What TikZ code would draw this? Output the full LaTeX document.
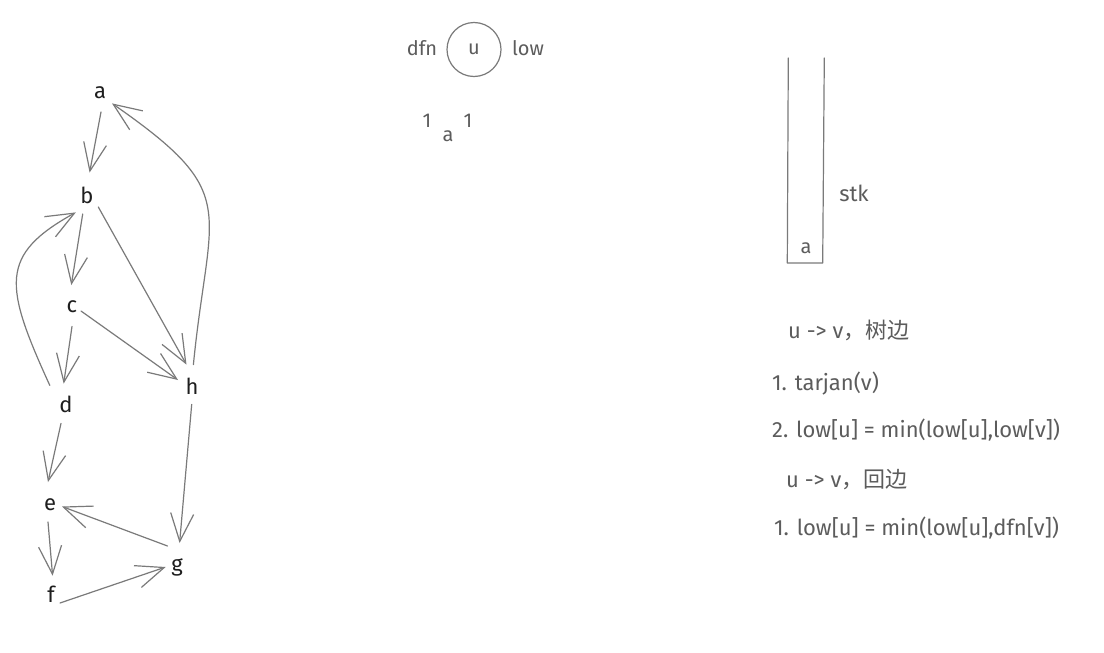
\documentclass[tikz,border=0pt]{standalone}
\usepackage{fontspec}
\setmainfont{Fira Sans}
\newfontfamily\cjk{Noto Sans CJK SC}
\usetikzlibrary{arrows.meta,calc}
\definecolor{inkblack}{HTML}{1E1E1E}
\definecolor{inkgray}{HTML}{5C5C5C}
\definecolor{linegray}{HTML}{7A7A7A}
\begin{document}
\begin{tikzpicture}[x=1pt,y=-1pt,
  lbl/.style={inner sep=0pt, text=inkblack, font=\fontsize{22}{26}\selectfont},
  note/.style={inner sep=0pt, text=inkgray, font=\fontsize{22}{26}\selectfont, anchor=base west},
  small/.style={inner sep=0pt, text=inkgray, font=\fontsize{20}{24}\selectfont, anchor=base},
  edge/.style={draw=linegray, line width=1.2pt, line cap=round, -{Straight Barb[length=28pt,width=23pt]}},
  plain/.style={draw=linegray, line width=1.2pt, line cap=round, line join=round}]
\useasboundingbox (0,0) rectangle (1104,653);
\fill[white] (0,0) rectangle (1104,653);

% graph nodes
\node[lbl] (a) at (100,93) {a};
\node[lbl] (b) at (87,195) {b};
\node[lbl] (c) at (72,307) {c};
\node[lbl] (d) at (66,404) {d};
\node[lbl] (h) at (192,386) {h};
\node[lbl] (e) at (50,505) {e};
\node[lbl] (g) at (177,567) {g};
\node[lbl] (f) at (51,594) {f};

% graph edges
\draw[edge] ($(a)+(1,19)$) -- ($(b)+(2.6,-22.4)$);
\draw[edge] ($(b)+(-4.3,19)$) -- ($(c)+(-0.7,-22)$);
\draw[edge] ($(b)+(11.3,12)$) -- ($(h)+(-5.5,-21.4)$);
\draw[edge] ($(c)+(9,4)$) -- ($(h)+(-14,-6)$);
\draw[edge] ($(c)+(0,19.5)$) -- ($(d)+(-2.3,-20.4)$);
\draw[edge] ($(d)+(-16.2,-18.6)$) .. controls ($(d)+(-62,-119)$) and ($(b)+(-88,60)$) .. ($(b)+(-11.2,17.4)$);
\draw[edge] ($(d)+(-5,19.4)$) -- ($(e)+(-2,-23)$);
\draw[edge] ($(h)+(-0.3,18.4)$) -- ($(g)+(2.6,-24)$);
\draw[edge] ($(g)+(-9.5,-21)$) -- ($(e)+(12,1.5)$);
\draw[edge] ($(f)+(9,9)$) -- ($(g)+(-11.3,0)$);
\draw[edge] ($(e)+(-2,17)$) -- ($(f)+(1.6,-18.3)$);
\draw[edge] ($(h)+(1.4,-21.4)$) .. controls ($(h)+(17,-180.6)$) and ($(a)+(143,101.6)$) .. ($(a)+(12,10.4)$);

% legend circle
\node[small] (dfn) at (422,56) {dfn};
\node[circle, draw=linegray, line width=1.2pt, minimum size=54pt, inner sep=0pt,
      text=inkgray, font=\fontsize{20}{24}\selectfont] (u) at (474,49.5) {u};
\node[small] (low) at (528,56) {low};
\node[small] (dfnval) at (427,127) {1};
\node[small] (aname) at (448,141.7) {a};
\node[small] (lowval) at (468,127) {1};

% stack
\coordinate (stl) at (788.3,58);
\coordinate (sbl) at (787.3,263);
\coordinate (sbr) at (822.7,263);
\coordinate (str) at (824.3,58);
\draw[plain] (stl) -- (sbl) -- (sbr) -- (str);
\node[small] (stka) at (806,253) {a};
\node[small, font=\fontsize{22}{26}\selectfont] (stk) at (854,201.7) {stk};

% notes
\node[note] (n1) at (788,338) {u -> v{\cjk ，树边}};
\node[note] (n2) at (772,390) {1. tarjan(v)};
\node[note] (n3) at (772,437) {2. low[u] = min(low[u],low[v])};
\node[note] (n4) at (786,487) {u -> v{\cjk ，回边}};
\node[note] (n5) at (774,535) {1. low[u] = min(low[u],dfn[v])};
\end{tikzpicture}
\end{document}
